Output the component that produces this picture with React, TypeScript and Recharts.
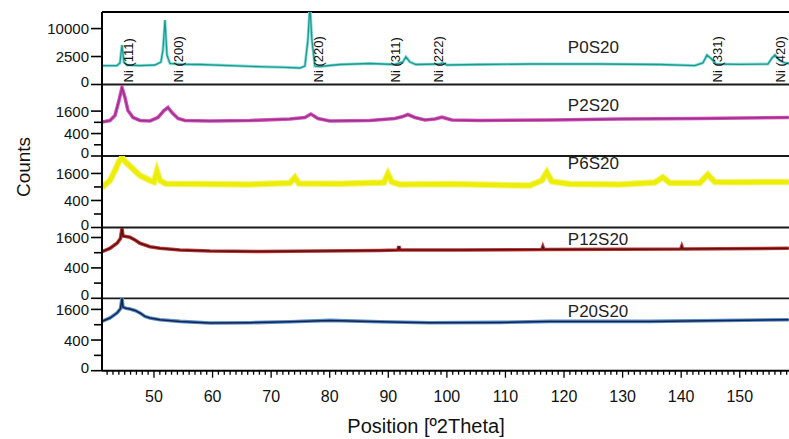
import { LineChart, Line, XAxis, YAxis, ReferenceLine } from 'recharts';

// 2theta range visible in the crop
const X_MIN = 41.13;
const X_MAX = 158.4;

const majorXTicks = [50, 60, 70, 80, 90, 100, 110, 120, 130, 140, 150];
const minorXTicks = Array.from({ length: 117 }, (_, i) => 42 + i);

// [2theta, counts]
const p0s20 = [
  [41.13, 1130], [42.49, 1130], [43.69, 1150], [44.2, 1480], [44.54, 4990], [44.88, 1620],
  [45.39, 1215], [47.61, 1150], [50.17, 1215], [51.19, 1620], [51.54, 3800], [51.88, 13300],
  [52.22, 2780], [52.73, 1410], [54.44, 1300], [57.85, 1280], [62.97, 1150], [68.09, 1010],
  [72.35, 945], [74.91, 870], [75.77, 1090], [76.28, 6330], [76.62, 20000], [76.96, 6330],
  [77.47, 1090], [78.33, 1035], [81.74, 1280], [86.86, 1410], [91.13, 1280], [92.49, 1620],
  [93.0, 2420], [93.69, 1620], [94.71, 1280], [98.8, 1340], [99.3, 1480], [100.0, 1215],
  [105.6, 1280], [114.2, 1340], [126.1, 1340], [136.3, 1280], [142.3, 1150], [143.7, 1480],
  [144.4, 2780], [145.2, 2080], [145.9, 1340], [150.0, 1300], [154.8, 1340], [155.5, 2240],
  [156.0, 2780], [156.7, 1920], [157.7, 1480], [158.4, 1410],
];

const p2s20 = [
  [41.13, 917], [42.49, 1000], [43.34, 1300], [44.03, 2440], [44.54, 3720], [45.05, 2720],
  [45.56, 1640], [46.42, 1176], [47.61, 1000], [49.32, 972], [50.68, 1176], [51.71, 1640],
  [52.39, 1870], [53.07, 1500], [54.1, 1116], [55.29, 1000], [59.56, 972], [66.38, 1000],
  [73.21, 1086], [75.77, 1176], [76.79, 1400], [77.99, 1116], [80.03, 972], [86.86, 1000],
  [91.13, 1116], [92.49, 1238], [93.34, 1367], [94.54, 1176], [96.25, 1029], [97.95, 1086],
  [99.15, 1195], [100.85, 1029], [105.63, 1000], [117.58, 1029], [129.52, 1086],
  [143.17, 1116], [158.36, 1176],
];

const p6s20 = [
  [41.13, 877], [42.49, 1210], [43.34, 1780], [44.03, 2390], [44.54, 2650], [45.22, 2315],
  [46.25, 1940], [47.61, 1480], [49.32, 1210], [50.0, 1134], [50.51, 1737], [51.02, 1210],
  [52.05, 1046], [57.85, 1037], [66.38, 1013], [73.21, 1085], [74.06, 1370], [74.74, 1061],
  [81.74, 1046], [89.25, 1109], [89.93, 1580], [90.61, 1134], [91.98, 1013], [100.5, 1037],
  [109.0, 990], [114.16, 966], [116.21, 1210], [117.06, 1675], [117.92, 1159], [120.99, 1037],
  [129.52, 1013], [135.49, 1109], [136.86, 1386], [138.05, 1085], [143.17, 1085],
  [144.54, 1539], [145.73, 1134], [150.0, 1124], [158.36, 1134],
];

const p12s20 = [
  [41.13, 940], [42.49, 1082], [43.69, 1309], [44.28, 1548], [44.54, 2121], [44.71, 1680],
  [45.22, 1653], [45.9, 1610], [46.76, 1471], [47.61, 1309], [49.32, 1152], [51.02, 1082],
  [54.44, 1010], [59.56, 968], [68.09, 948], [78.33, 968], [88.57, 989], [91.64, 1010],
  [91.81, 1180], [91.98, 1010], [102.2, 1010], [116.21, 1031], [116.38, 1150], [116.55, 1031],
  [129.52, 1039], [139.93, 1052], [140.1, 1170], [140.27, 1052], [158.36, 1082],
];

const p20s20 = [
  [41.13, 1034], [42.49, 1182], [43.69, 1417], [44.28, 1636], [44.54, 2240], [44.71, 1716],
  [45.22, 1662], [45.9, 1620], [46.76, 1547], [47.61, 1417], [48.46, 1255], [49.32, 1182],
  [51.02, 1107], [54.44, 1034], [59.56, 968], [66.38, 980], [73.21, 1022], [80.03, 1077],
  [88.57, 1022], [97.1, 980], [109.04, 993], [117.58, 1034], [134.64, 1034], [158.36, 1107],
];

const niLabels = ['Ni (111)', 'Ni (200)', 'Ni (220)', 'Ni (311)', 'Ni (222)', 'Ni (331)', 'Ni (420)'];
const niLabelAt = [45.73, 54.27, 78.16, 91.3, 98.63, 146.25, 157.0];

const SAMPLE_LABEL_AT = 120.65;
const FONT = '"Liberation Sans", Arial, sans-serif';

const panels = [
  { name: 'P0S20', data: p0s20, top: 12, height: 72.5, max: 16800, major: [0, 2500, 10000], minor: [] as number[], core: '#1a9b92', halo: '#8ddcd6', coreW: 1.3, haloW: 3, labelDy: 41 },
  { name: 'P2S20', data: p2s20, top: 84.5, height: 71, max: 4000, major: [0, 400, 1600], minor: [100, 900], core: '#93358f', halo: '#d94db6', coreW: 1.4, haloW: 3.6, labelDy: 25.5 },
  { name: 'P6S20', data: p6s20, top: 155.5, height: 71.5, max: 2800, major: [0, 400, 1600], minor: [100, 900], core: '#eded0a', halo: '#f5f570', coreW: 4.5, haloW: 6.5, labelDy: 12.5 },
  { name: 'P12S20', data: p12s20, top: 227, height: 71.3, max: 2200, major: [0, 400, 1600], minor: [100, 900], core: '#5a1010', halo: '#c23535', coreW: 1.5, haloW: 3.6, labelDy: 18 },
  { name: 'P20S20', data: p20s20, top: 298.3, height: 72.7, max: 2250, major: [0, 400, 1600], minor: [100, 900], core: '#102550', halo: '#5a8cc8', coreW: 1.5, haloW: 3.6, labelDy: 18.7 },
];

const YTick = (props: any) => {
  const { x, y, payload, major } = props;
  const isMajor = major.includes(payload.value);
  // the zero label sits a little above the panel border
  const ly = payload.value === 0 ? y - 3.5 : y;
  return (
    <g>
      <line x1={x - (isMajor ? 11 : 8)} x2={x} y1={y} y2={y} stroke="#000" strokeWidth={1.6} />
      {isMajor && (
        <text x={x - 13} y={ly} textAnchor="end" dominantBaseline="central" fontSize={15} fontFamily={FONT} fill="#111">
          {payload.value}
        </text>
      )}
    </g>
  );
};

const XTick = (props: any) => {
  const { x, y, payload } = props;
  const isMajor = majorXTicks.includes(payload.value);
  return (
    <g>
      <line x1={x} x2={x} y1={y} y2={y + (isMajor ? 7 : 4)} stroke="#000" strokeWidth={1.3} />
      {isMajor && (
        <text x={x} y={y + 31} textAnchor="middle" fontSize={16} fontFamily={FONT} fill="#111">
          {payload.value}
        </text>
      )}
    </g>
  );
};

const NiTag = (props: any) => {
  const { viewBox, text } = props;
  const bottom = Math.max(viewBox.y, viewBox.y + viewBox.height);
  return (
    <text transform={`translate(${viewBox.x},${bottom - 2}) rotate(-90)`} dominantBaseline="central" fontSize={13} fontFamily={FONT} fill="#111">
      {text}
    </text>
  );
};

const SampleTag = (props: any) => {
  const { viewBox, text, dy } = props;
  const top = Math.min(viewBox.y, viewBox.y + viewBox.height);
  return (
    <text x={viewBox.x} y={top + dy} fontSize={17} fontFamily={FONT} fill="#222">
      {text}
    </text>
  );
};

function Panel({ p, index }: { p: (typeof panels)[number]; index: number }) {
  const last = index === panels.length - 1;
  const mt = 2;
  const mb = 8;
  const axisH = 68;
  const h = p.height + mt + (last ? axisH : mb);
  const rows = p.data.map(([t, c]) => ({ t, c }));
  const yTicks = [...p.major, ...p.minor].sort((a, b) => a - b);
  return (
    <div style={{ position: 'absolute', left: 0, top: p.top - mt, width: 789, height: h }}>
      <LineChart width={789} height={h} data={rows} margin={{ top: mt, right: 0, bottom: last ? 0 : mb, left: 0 }}>
        <XAxis
          dataKey="t"
          type="number"
          domain={[X_MIN, X_MAX]}
          allowDataOverflow
          hide={!last}
          height={axisH}
          ticks={minorXTicks}
          interval={0}
          tick={XTick}
          tickSize={0}
          tickMargin={0}
          tickLine={false}
          axisLine={{ stroke: '#000', strokeWidth: 2 }}
        />
        <YAxis
          type="number"
          scale="sqrt"
          domain={[0, p.max]}
          allowDataOverflow
          width={102}
          ticks={yTicks}
          interval={0}
          tick={(tp: any) => <YTick {...tp} major={p.major} />}
          tickSize={0}
          tickMargin={0}
          tickLine={false}
          axisLine={{ stroke: '#000', strokeWidth: 2 }}
        />
        {index === 0 && <ReferenceLine y={p.max} stroke="#000" strokeWidth={2.2} />}
        {!last && <ReferenceLine y={0} stroke="#1a1a1a" strokeWidth={1.8} />}
        <Line type="linear" dataKey="c" stroke={p.halo} strokeWidth={p.haloW} dot={false} isAnimationActive={false} />
        <Line type="linear" dataKey="c" stroke={p.core} strokeWidth={p.coreW} dot={false} isAnimationActive={false} />
        <ReferenceLine x={SAMPLE_LABEL_AT} stroke="none" label={<SampleTag text={p.name} dy={p.labelDy} />} />
        {index === 0 &&
          niLabels.map((txt, i) => (
            <ReferenceLine key={txt} x={niLabelAt[i]} stroke="none" label={<NiTag text={txt} />} />
          ))}
      </LineChart>
    </div>
  );
}

export default function App() {
  return (
    <div style={{ position: 'absolute', left: 0, top: 0, width: 789, height: 439, background: '#fff', overflow: 'hidden', fontFamily: FONT }}>
      {panels.map((p, i) => (
        <Panel key={p.name} p={p} index={i} />
      ))}
      <svg width={789} height={439} style={{ position: 'absolute', left: 0, top: 0, pointerEvents: 'none' }}>
        <text transform="translate(23.5,167) rotate(-90)" textAnchor="middle" dominantBaseline="central" fontSize={19} fontFamily={FONT} fill="#111">
          Counts
        </text>
        <text x={426} y={433} textAnchor="middle" fontSize={20} fontFamily={FONT} fill="#111">
          Position [º2Theta]
        </text>
      </svg>
    </div>
  );
}
